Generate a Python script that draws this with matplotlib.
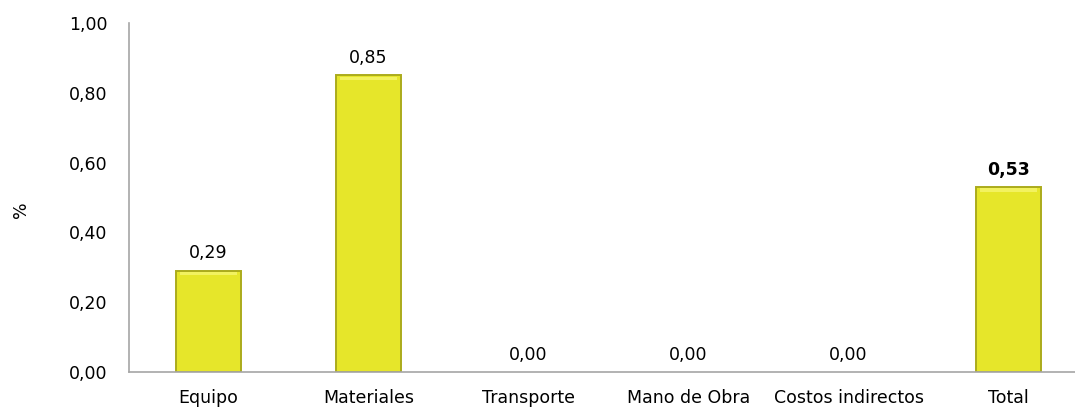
import matplotlib
matplotlib.use("Agg")
import matplotlib.pyplot as plt
import numpy as np

categories = ["Equipo", "Materiales", "Transporte", "Mano de Obra", "Costos indirectos", "Total"]
values = [0.29, 0.85, 0.00, 0.00, 0.00, 0.53]
yticks = [0.0, 0.2, 0.4, 0.6, 0.8, 1.0]

plt.rcParams['font.family'] = ['DejaVu Sans']
FS = 12.5

fig = plt.figure(figsize=(10.75, 4.08), dpi=100)
ax = fig.add_axes([128.5/1075, 36/408, 960/1075, 349/408])

x = np.arange(len(categories))
w = 0.41
lws = [1.4 if v > 0 else 0 for v in values]
ax.bar(x, values, width=w, color="#E6E62A", edgecolor="#ABAB1C", linewidth=lws, zorder=2)
# bevel highlight (inner lighter band near the top)
inner_h = [max(v - 0.013, 0) for v in values]
ax.bar(x, [0.009 if v > 0 else 0 for v in values], bottom=inner_h,
       width=w * 0.88, color="#F2F260", linewidth=0, zorder=3)

for xi, v, c in zip(x, values, categories):
    lab = f"{v:.2f}".replace(".", ",")
    ax.annotate(lab, (xi, v), xytext=(0, 6), textcoords="offset points",
                ha="center", va="bottom", fontsize=FS,
                fontweight="bold" if c == "Total" else "normal")

ax.set_xlim(-0.5, 5.5)
ax.set_ylim(0, 1.0)
ax.set_yticks(yticks)
ax.set_yticklabels([f"{t:.2f}".replace(".", ",") for t in yticks])
ax.set_xticks(x)
ax.set_xticklabels(categories)
ax.tick_params(axis="both", length=0, labelsize=FS)
ax.tick_params(axis="y", pad=15)
ax.tick_params(axis="x", pad=12)
ax.set_ylabel("%", fontsize=FS)
ax.yaxis.set_label_coords(-0.103, 0.464)

for s in ["top", "right"]:
    ax.spines[s].set_visible(False)
for s in ["left", "bottom"]:
    ax.spines[s].set_color("#A6A6A6")
    ax.spines[s].set_linewidth(1.2)

fig.savefig("out.png", dpi=100)
